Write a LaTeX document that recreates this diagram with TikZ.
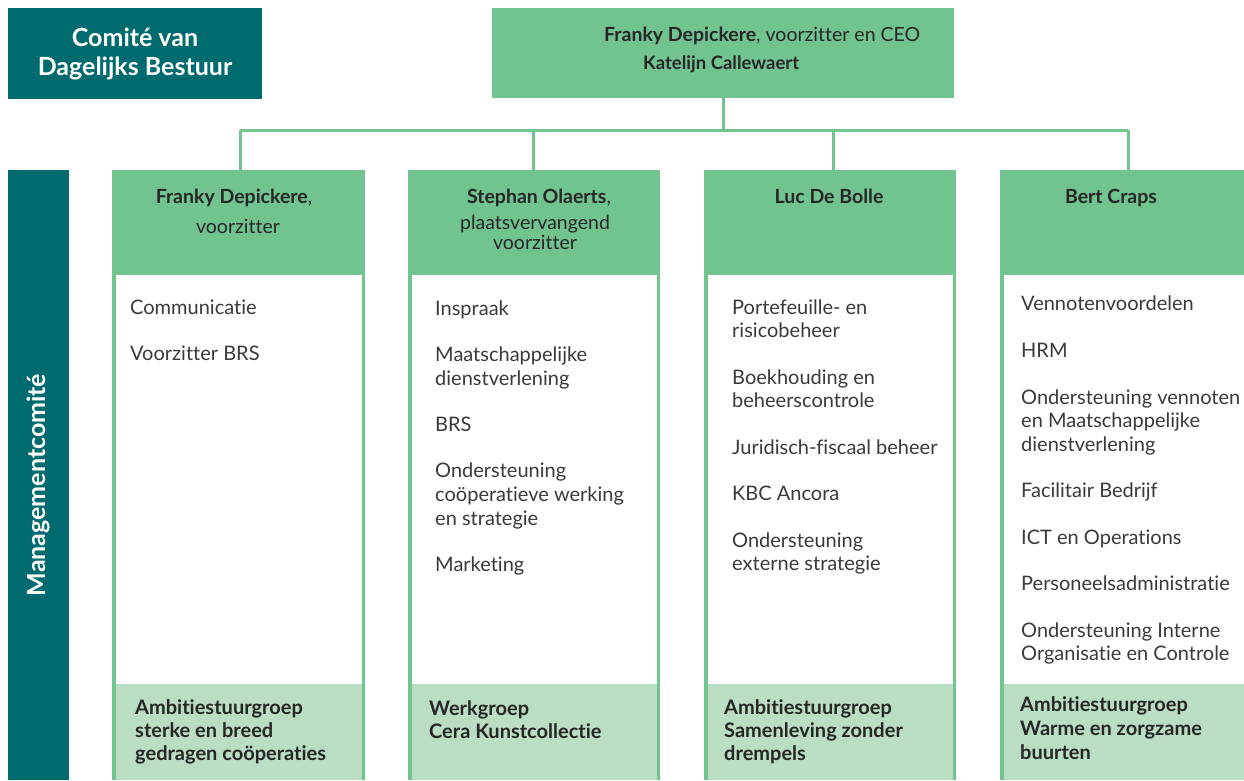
\documentclass[tikz,border=0pt]{standalone}
\usepackage{fontspec}
\setmainfont{Lato}[Ligatures={NoCommon}]
\definecolor{teal}{HTML}{006B6E}
\definecolor{mgreen}{HTML}{71C48F}
\definecolor{lgreen}{HTML}{B9DEC2}
\definecolor{bodytxt}{HTML}{3A3A3A}
\definecolor{headtxt}{HTML}{262626}
\newcommand\mlL[2]{\vtop{\baselineskip=#1\relax\lineskiplimit=-20pt\halign{##\hfil\cr#2\crcr}}}
\newcommand\mlC[2]{\vtop{\baselineskip=#1\relax\lineskiplimit=-20pt\halign{\hfil##\hfil\cr#2\crcr}}}
\tikzset{
  tealbox/.style={fill=teal,draw=none,inner sep=0pt,anchor=north west},
  greenbox/.style={fill=mgreen,draw=none,inner sep=0pt,anchor=north west},
  whitebox/.style={fill=white,draw=none,inner sep=0pt,anchor=north west},
  footbox/.style={fill=lgreen,draw=none,inner sep=0pt,anchor=north west},
  conn/.style={draw=mgreen,line width=3pt},
  item/.style={anchor=base west,inner sep=0pt,text=bodytxt,
    font=\fontsize{20}{23.5}\selectfont},
  foot/.style={anchor=base west,inner sep=0pt,text=headtxt,
    font=\fontsize{20}{23.5}\selectfont\bfseries},
  hname/.style={anchor=base,inner sep=0pt,text=headtxt,font=\fontsize{19.5}{22}\selectfont},
  hrole/.style={anchor=base,inner sep=0pt,text=headtxt,font=\fontsize{19.5}{22}\selectfont},
  whitetxt/.style={anchor=base,inner sep=0pt,text=white,font=\fontsize{25}{29}\selectfont\bfseries},
}
\begin{document}
\begin{tikzpicture}[x=1pt,y=-1pt]
\clip (0,0) rectangle (1244,780);
\fill[white] (0,0) rectangle (1244,780);
% top boxes
\node[tealbox,minimum width=254pt,minimum height=91pt] (cdb) at (8,8) {};
\node[whitetxt] (cdbt) at (135,46) {Comité van};
\node[whitetxt] (cdbt2) at (135,75) {Dagelijks Bestuur};
\node[greenbox,minimum width=462pt,minimum height=90pt] (ceo) at (492,8) {};
\node[anchor=base west,inner sep=0pt,text=headtxt,font=\fontsize{19.5}{22}\selectfont] (ceot) at (604,41) {\textbf{Franky Depickere}, voorzitter en CEO};
\node[anchor=base west,inner sep=0pt,text=headtxt,font=\fontsize{18.5}{22}\selectfont\bfseries] (ceot2) at (643,69) {Katelijn Callewaert};
% left bar
\node[tealbox,minimum width=61pt,minimum height=610pt] (mc) at (8,170) {};
\node[rotate=90,inner sep=0pt,text=white,font=\fontsize{25}{29}\selectfont\bfseries] (mct) at (38,485) {Managementcomité};
% columns
\foreach \i/\x/\w in {1/112/253,2/408/252,3/704/252,4/1000/256}{
  \node[greenbox,minimum width=\w pt,minimum height=610pt] (col\i) at (\x,170) {};
  \node[whitebox,minimum width=\w pt-6.6pt,minimum height=409pt] (b\i) at (\x+3.3,275) {};
  \node[footbox,minimum width=\w pt-6.6pt,minimum height=96pt] (f\i) at (\x+3.3,684) {};
}
% connectors
\coordinate (bus) at (0,130);
\draw[conn] (ceo.south) -- (ceo.south |- bus);
\draw[conn] (240,130) -- (1128,130);
\foreach \i/\x in {1/240,2/533,3/833,4/1128}{
  \draw[conn] (\x,130) -- (\x,171.5);
}
% headers
\node[hname] (h1) at (234,203) {\textbf{Franky Depickere},};
\node[hrole] (r1) at (238,233) {voorzitter};
\node[hname] (h2) at (539,203) {\textbf{Stephan Olaerts},};
\node[hrole] (r2) at (535,229) {\mlC{20pt}{plaatsvervangend\cr voorzitter}};
\node[hname] (h3) at (829,203) {\textbf{Luc De Bolle}};
\node[hname] (h4) at (1111,203) {\textbf{Bert Craps}};
% column 1
\node[item] (c1a) at (130,314) {Communicatie};
\node[item] (c1b) at (130,360) {Voorzitter BRS};
% column 2
\node[item] (c2a) at (435,315) {Inspraak};
\node[item] (c2b) at (435,361) {\mlL{24pt}{Maatschappelijke\cr dienstverlening}};
\node[item] (c2c) at (435,431) {BRS};
\node[item] (c2d) at (435,477) {\mlL{24pt}{Ondersteuning\cr coöperatieve werking\cr en strategie}};
\node[item] (c2e) at (435,571) {Marketing};
% column 3
\node[item] (c3a) at (732,314) {\mlL{23.5pt}{Portefeuille- en\cr risicobeheer}};
\node[item] (c3b) at (732,384) {\mlL{23.5pt}{Boekhouding en\cr beheerscontrole}};
\node[item] (c3c) at (732,454) {Juridisch-fiscaal beheer};
\node[item] (c3d) at (732,500) {KBC Ancora};
\node[item] (c3e) at (732,547) {\mlL{23.5pt}{Ondersteuning\cr externe strategie}};
% column 4
\node[item] (c4a) at (1021,310) {Vennotenvoordelen};
\node[item] (c4b) at (1021,357) {HRM};
\node[item] (c4c) at (1021,404) {\mlL{23.5pt}{Ondersteuning vennoten\cr en Maatschappelijke\cr dienstverlening}};
\node[item] (c4d) at (1021,497) {Facilitair Bedrijf};
\node[item] (c4e) at (1021,544) {ICT en Operations};
\node[item] (c4f) at (1021,590) {Personeelsadministratie};
\node[item] (c4g) at (1021,637) {\mlL{23.5pt}{Ondersteuning Interne\cr Organisatie en Controle}};
% footers
\node[foot] (ft1) at (135,714) {\mlL{23pt}{Ambitiestuurgroep\cr sterke en breed\cr gedragen coöperaties}};
\node[foot] (ft2) at (429,715) {\mlL{23pt}{Werkgroep\cr Cera Kunstcollectie}};
\node[foot] (ft3) at (724,714) {\mlL{23pt}{Ambitiestuurgroep\cr Samenleving zonder\cr drempels}};
\node[foot] (ft4) at (1020,711) {\mlL{24pt}{Ambitiestuurgroep\cr Warme en zorgzame\cr buurten}};
\end{tikzpicture}
\end{document}
